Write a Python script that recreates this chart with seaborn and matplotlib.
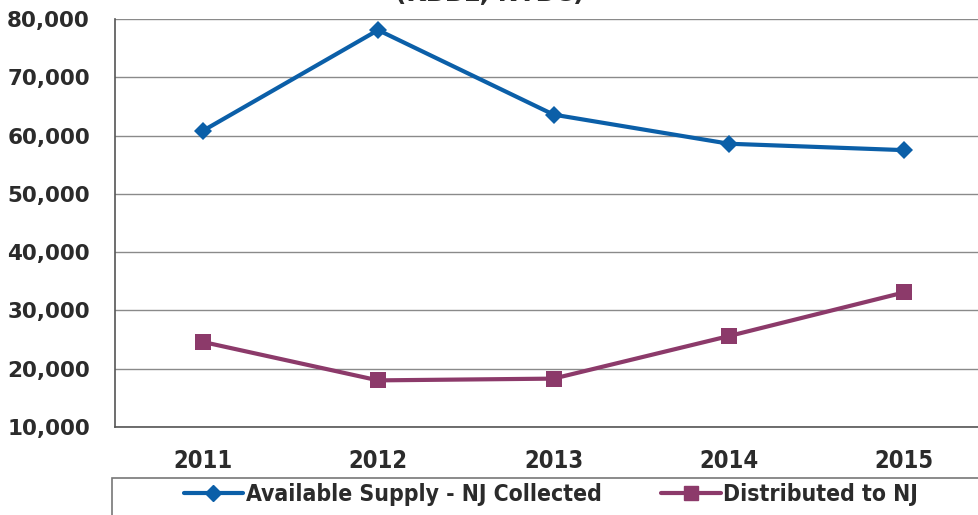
import matplotlib.pyplot as plt
import matplotlib.patches as mpatches
import pandas as pd
import seaborn as sns
from matplotlib.ticker import FuncFormatter

# values
years = ["2011", "2012", "2013", "2014", "2015"]
supply = [60800, 78100, 63600, 58600, 57500]
distributed = [24600, 18000, 18300, 25600, 33100]
series_names = ["Available Supply - NJ Collected", "Distributed to NJ"]

df = pd.DataFrame({
    "year": years * 2,
    "units": supply + distributed,
    "series": [series_names[0]] * 5 + [series_names[1]] * 5,
})

sns.set_theme(style="white")
plt.rcParams['font.family'] = ['DejaVu Sans']

blue = "#0b5fa8"
purple = "#8c3a6a"
txt = "#2b2b2b"
cond = dict(family="DejaVu Sans", stretch="condensed", weight="bold")

fig = plt.figure(figsize=(9.79, 5.15), dpi=100)
ax = fig.add_axes([115 / 979, 1 - 427 / 515, 877 / 979, (427 - 19) / 515])

sns.lineplot(data=df, x="year", y="units", hue="series", style="series",
             palette=[blue, purple], markers=["D", "s"], dashes=False,
             markersize=10, linewidth=3, markeredgewidth=0, ax=ax, legend=False)
# square a bit larger than diamond
for line, ms in zip(ax.lines, [9, 11]):
    line.set_markersize(ms)

ax.set_xlim(-0.5, 4.5)
ax.set_ylim(10000, 80000)
ax.set_yticks(range(10000, 80001, 10000))
ax.yaxis.set_major_formatter(FuncFormatter(lambda v, p: f"{int(v):,}"))
ax.set_xlabel("")
ax.set_ylabel("")
ax.grid(axis="y", color="#8a8a8a", linewidth=1)
ax.set_axisbelow(True)
for s in ["top", "right"]:
    ax.spines[s].set_visible(False)
for s in ["left", "bottom"]:
    ax.spines[s].set_color("#555555")
    ax.spines[s].set_linewidth(1.2)

ax.tick_params(axis="y", which="major", direction="out", length=6, width=1,
               color="#555555", labelsize=15.5, labelcolor=txt, pad=12)
for lab in ax.get_yticklabels():
    lab.set_fontweight("heavy")
ax.set_xticks(range(len(years)))
ax.set_xticks([i - 0.5 for i in range(len(years) + 1)], minor=True)
ax.tick_params(axis="x", which="major", length=0, pad=16)
ax.tick_params(axis="x", which="minor", direction="out", length=7, width=1,
               color="#555555")
ax.set_xticklabels(years, fontsize=17, color=txt, **cond)

# title, mostly cut off at the top in the reference
fig.text(490 / 979, 1.012, "(KBBL, NTBC)", ha="center", va="center",
         fontsize=18, fontweight="bold", color=txt)

# legend box, running off the bottom and right of the picture
box = mpatches.Rectangle((112 / 979, -0.05), 0.95, 1 - 478 / 515 + 0.05,
                         transform=fig.transFigure, fill=False,
                         edgecolor="#777777", linewidth=1.2)
fig.add_artist(box)
handles = [plt.Line2D([], [], color=blue, marker="D", markersize=8, linewidth=3),
           plt.Line2D([], [], color=purple, marker="s", markersize=10, linewidth=3)]
leg = fig.legend(handles, series_names, loc="center left",
                 bbox_to_anchor=(163 / 979, 1 - 495 / 515), ncol=2, frameon=False,
                 handlelength=2.6, handletextpad=0.1, columnspacing=2.6,
                 prop=dict(size=16.5, **cond))
for t in leg.get_texts():
    t.set_color(txt)

fig.savefig("out.png", dpi=100)
